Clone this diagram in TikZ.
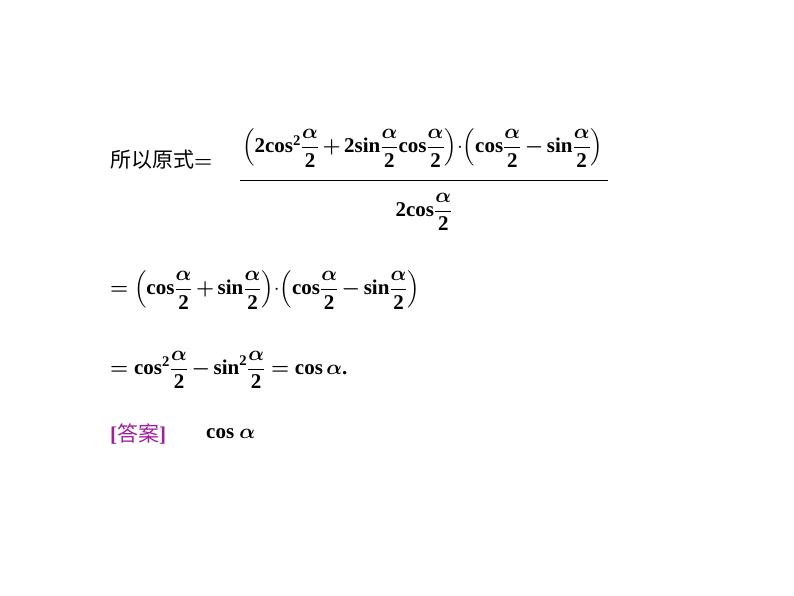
\documentclass[tikz,border=0pt]{standalone}
\usepackage{amsmath,bm}
\usepackage{fontspec}
\setmainfont{Liberation Serif}
\newfontfamily\cjk{Noto Sans CJK SC}
\definecolor{ans}{RGB}{160,30,160}
\newcommand\ha{\dfrac{\bm{\alpha}}{\textbf{2}}}
\newcommand\cs{\textbf{cos}}
\newcommand\sn{\textbf{sin}}
\newcommand\tw{\textbf{2}}
\newcommand\pl{{\boldsymbol{+}}}
\newcommand\mi{{\boldsymbol{-}}}
\newcommand\dt{{\cdot}}
\tikzset{txt/.style={anchor=west,inner sep=0pt,font=\fontsize{21}{25}\selectfont\bfseries}}
\begin{document}
\begin{tikzpicture}[x=1pt,y=-1pt]
\useasboundingbox (0,0) rectangle (794,596);
\node[txt] (l1a) at (110,160) {{\cjk\mdseries 所以原式}$\boldsymbol{=}$};
\node[txt] (num) at (242,148) {$\left(\tw\cs^{\tw}\ha\,\pl\,\tw\sn\ha\cs\ha\right)\!\dt\!\left(\cs\ha\,\mi\,\sn\ha\right)$};
\coordinate (fl) at (240,180);
\coordinate (fr) at (608,180);
\draw[line width=0.8pt] (fl) -- (fr);
\node[txt,anchor=center] (den) at (424,212) {$\tw\cs\ha$};
\node[txt] (l2) at (110,290) {$\boldsymbol{=}\left(\cs\ha\,\pl\,\sn\ha\right)\!\dt\!\left(\cs\ha\,\mi\,\sn\ha\right)$};
\node[txt] (l3) at (110,370) {$\boldsymbol{=}\cs^{\tw}\ha\,\mi\,\sn^{\tw}\ha\boldsymbol{=}\cs\,\bm{\alpha}$.};
\node[txt,text=ans] (l4a) at (110,434) {[{\cjk\mdseries 答案}]};
\node[txt] (l4b) at (206,434) {cos $\bm{\alpha}$};
\end{tikzpicture}
\end{document}
